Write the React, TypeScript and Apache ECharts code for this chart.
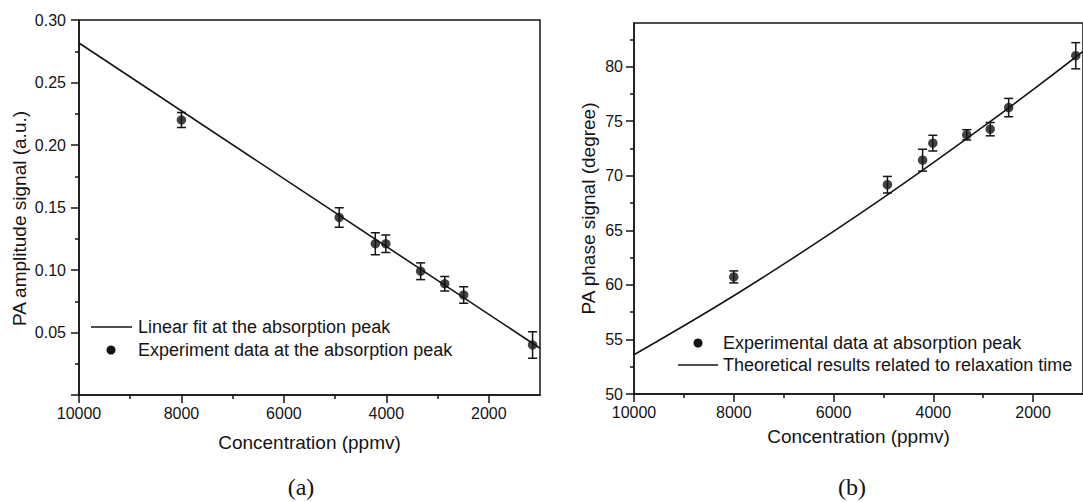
import React, { useEffect, useRef } from "react";
import * as echarts from "echarts";

// ---- data ----
const concentrations = [8000, 4920, 4215, 4010, 3330, 2860, 2490, 1145];
const amplitude = [0.22, 0.142, 0.121, 0.121, 0.099, 0.089, 0.08, 0.04];
const amplitudeErr = [0.006, 0.0078, 0.0088, 0.007, 0.0067, 0.0058, 0.0066, 0.0106];
const phase = [60.73, 69.18, 71.43, 72.99, 73.75, 74.27, 76.25, 81.0];
const phaseErr = [0.55, 0.76, 1.0, 0.72, 0.47, 0.61, 0.84, 1.2];

const fitConc = [10000, 1000];
const fitAmplitude = [0.2816, 0.0374];

const theoryConc = [10000, 9000, 8000, 7000, 6000, 5000, 4000, 3000, 2000, 1000];
const theoryPhase = [53.6, 56.25, 59.0, 61.9, 64.9, 68.0, 71.2, 74.5, 77.9, 81.4];

const xMajorTicks = [2000, 4000, 6000, 8000, 10000];
const xMinorTicks = [3000, 5000, 7000, 9000];
const phaseMajorTicks = [50, 55, 60, 65, 70, 75, 80];
const phaseMinorTicks = [52.5, 57.5, 62.5, 67.5, 72.5, 77.5, 82.5];

const legendA = ["Linear fit at the absorption peak", "Experiment data at the absorption peak"];
const legendB = ["Experimental data at absorption peak", "Theoretical results related to relaxation time"];

const INK = "#141414";
const FONT = "'Liberation Sans', Arial, sans-serif";
const SERIF = "'Liberation Serif', 'Times New Roman', serif";

function errorBarRender(params: any, api: any) {
  const x = api.value(0);
  const y = api.value(1);
  const e = api.value(2);
  const top = api.coord([x, y + e]);
  const bot = api.coord([x, y - e]);
  const hw = 4.5;
  const st = { stroke: INK, lineWidth: 1.5 };
  return {
    type: "group",
    children: [
      { type: "line", shape: { x1: top[0], y1: top[1], x2: bot[0], y2: bot[1] }, style: st },
      { type: "line", shape: { x1: top[0] - hw, y1: top[1], x2: top[0] + hw, y2: top[1] }, style: st },
      { type: "line", shape: { x1: bot[0] - hw, y1: bot[1], x2: bot[0] + hw, y2: bot[1] }, style: st },
    ],
  };
}

function majorX(gridIndex: number, nameGap: number) {
  return {
    type: "value",
    gridIndex,
    inverse: true,
    min: 1000,
    max: 10000,
    interval: 1000,
    position: "bottom",
    name: "Concentration (ppmv)",
    nameLocation: "middle",
    nameGap,
    nameTextStyle: { fontSize: 19, color: INK, fontFamily: FONT },
    axisLine: { show: true, lineStyle: { color: INK, width: 1.5 } },
    axisTick: { show: true, customValues: xMajorTicks, length: 8, lineStyle: { color: INK, width: 1.5 } },
    axisLabel: {
      customValues: xMajorTicks,
      formatter: (v: number) => String(v),
      fontSize: 16,
      color: INK,
      fontFamily: FONT,
      margin: 10,
    },
    splitLine: { show: false },
  };
}

function minorX(gridIndex: number) {
  return {
    type: "value",
    gridIndex,
    inverse: true,
    min: 1000,
    max: 10000,
    interval: 1000,
    position: "bottom",
    axisLine: { show: false },
    axisTick: { show: true, customValues: xMinorTicks, length: 4, lineStyle: { color: INK, width: 1.5 } },
    axisLabel: { show: false },
    splitLine: { show: false },
  };
}

export default function App() {
  const ref = useRef<HTMLDivElement>(null);
  useEffect(() => {
    if (!ref.current) return;
    const chart = echarts.init(ref.current, null, { renderer: "svg" });
    const ampErrData = concentrations.map((c, i) => [c, amplitude[i], amplitudeErr[i]]);
    const phaseErrData = concentrations.map((c, i) => [c, phase[i], phaseErr[i]]);
    chart.setOption({
      animation: false,
      backgroundColor: "#ffffff",
      textStyle: { fontFamily: FONT },
      grid: [
        { left: 79, top: 20, width: 461, height: 375, show: true, borderColor: INK, borderWidth: 1.5, backgroundColor: "transparent" },
        { left: 634, top: 23, width: 455, height: 371, show: true, borderColor: INK, borderWidth: 1.5, backgroundColor: "transparent" },
      ],
      xAxis: [majorX(0, 38), minorX(0), majorX(1, 33), minorX(1)],
      yAxis: [
        {
          type: "value",
          gridIndex: 0,
          min: 0,
          max: 0.3,
          interval: 0.05,
          name: "PA amplitude signal (a.u.)",
          nameLocation: "middle",
          nameGap: 50,
          nameTextStyle: { fontSize: 19, color: INK, fontFamily: FONT, padding: [0, 22, 0, 0] },
          axisLine: { show: true, lineStyle: { color: INK, width: 1.5 } },
          axisTick: { show: true, length: 8, lineStyle: { color: INK, width: 1.5 } },
          minorTick: { show: true, splitNumber: 2, length: 4, lineStyle: { color: INK, width: 1.5 } },
          axisLabel: {
            formatter: (v: number) => (v === 0 ? "" : v.toFixed(2)),
            fontSize: 16,
            color: INK,
            fontFamily: FONT,
            margin: 13,
          },
          splitLine: { show: false },
          minorSplitLine: { show: false },
        },
        {
          type: "value",
          gridIndex: 1,
          min: 50,
          max: 84,
          interval: 5,
          name: "PA phase signal (degree)",
          nameLocation: "middle",
          nameGap: 36,
          nameTextStyle: { fontSize: 19, color: INK, fontFamily: FONT },
          axisLine: { show: true, lineStyle: { color: INK, width: 1.5 } },
          axisTick: { show: true, customValues: phaseMajorTicks, length: 8, lineStyle: { color: INK, width: 1.5 } },
          axisLabel: {
            customValues: phaseMajorTicks,
            formatter: (v: number) => String(v),
            fontSize: 16,
            color: INK,
            fontFamily: FONT,
            margin: 11,
          },
          splitLine: { show: false },
        },
        {
          type: "value",
          gridIndex: 1,
          min: 50,
          max: 84,
          interval: 5,
          position: "left",
          axisLine: { show: false },
          axisTick: { show: true, customValues: phaseMinorTicks, length: 4, lineStyle: { color: INK, width: 1.5 } },
          axisLabel: { show: false },
          splitLine: { show: false },
        },
      ],
      series: [
        {
          name: legendA[0],
          type: "line",
          xAxisIndex: 0,
          yAxisIndex: 0,
          data: fitConc.map((c, i) => [c, fitAmplitude[i]]),
          symbol: "none",
          lineStyle: { color: INK, width: 1.6 },
          z: 3,
        },
        {
          type: "custom",
          xAxisIndex: 0,
          yAxisIndex: 0,
          data: ampErrData,
          encode: { x: 0, y: 1 },
          renderItem: errorBarRender,
          z: 4,
        },
        {
          name: legendA[1],
          type: "scatter",
          xAxisIndex: 0,
          yAxisIndex: 0,
          data: concentrations.map((c, i) => [c, amplitude[i]]),
          symbol: "circle",
          symbolSize: 9.5,
          itemStyle: { color: INK },
          z: 5,
        },
        {
          name: legendB[1],
          type: "line",
          xAxisIndex: 2,
          yAxisIndex: 1,
          data: theoryConc.map((c, i) => [c, theoryPhase[i]]),
          symbol: "none",
          smooth: true,
          lineStyle: { color: INK, width: 1.6 },
          z: 3,
        },
        {
          type: "custom",
          xAxisIndex: 2,
          yAxisIndex: 1,
          data: phaseErrData,
          encode: { x: 0, y: 1 },
          renderItem: errorBarRender,
          z: 4,
        },
        {
          name: legendB[0],
          type: "scatter",
          xAxisIndex: 2,
          yAxisIndex: 1,
          data: concentrations.map((c, i) => [c, phase[i]]),
          symbol: "circle",
          symbolSize: 9.5,
          itemStyle: { color: INK },
          z: 5,
        },
      ],
      graphic: [
        // legend (a)
        { type: "line", shape: { x1: 91, y1: 327, x2: 132, y2: 327 }, style: { stroke: INK, lineWidth: 1.6 } },
        { type: "text", x: 138, y: 327, style: { text: legendA[0], fontSize: 18, fill: INK, fontFamily: FONT, verticalAlign: "middle" } },
        { type: "circle", shape: { cx: 111, cy: 350, r: 4.5 }, style: { fill: INK } },
        { type: "text", x: 138, y: 350, style: { text: legendA[1], fontSize: 18, fill: INK, fontFamily: FONT, verticalAlign: "middle" } },
        // legend (b)
        { type: "circle", shape: { cx: 698, cy: 343, r: 4.5 }, style: { fill: INK } },
        { type: "text", x: 723, y: 343, style: { text: legendB[0], fontSize: 18, fill: INK, fontFamily: FONT, verticalAlign: "middle" } },
        { type: "line", shape: { x1: 678, y1: 365, x2: 718, y2: 365 }, style: { stroke: INK, lineWidth: 1.6 } },
        { type: "text", x: 723, y: 365, style: { text: legendB[1], fontSize: 18, fill: INK, fontFamily: FONT, verticalAlign: "middle" } },
        // panel labels
        { type: "text", x: 301, y: 487, style: { text: "(a)", fontSize: 24, fill: INK, fontFamily: SERIF, align: "center", verticalAlign: "middle" } },
        { type: "text", x: 852, y: 487, style: { text: "(b)", fontSize: 24, fill: INK, fontFamily: SERIF, align: "center", verticalAlign: "middle" } },
      ],
    });
    return () => chart.dispose();
  }, []);
  return <div ref={ref} style={{ position: "absolute", left: 0, top: 0, width: 1083, height: 502 }} />;
}
